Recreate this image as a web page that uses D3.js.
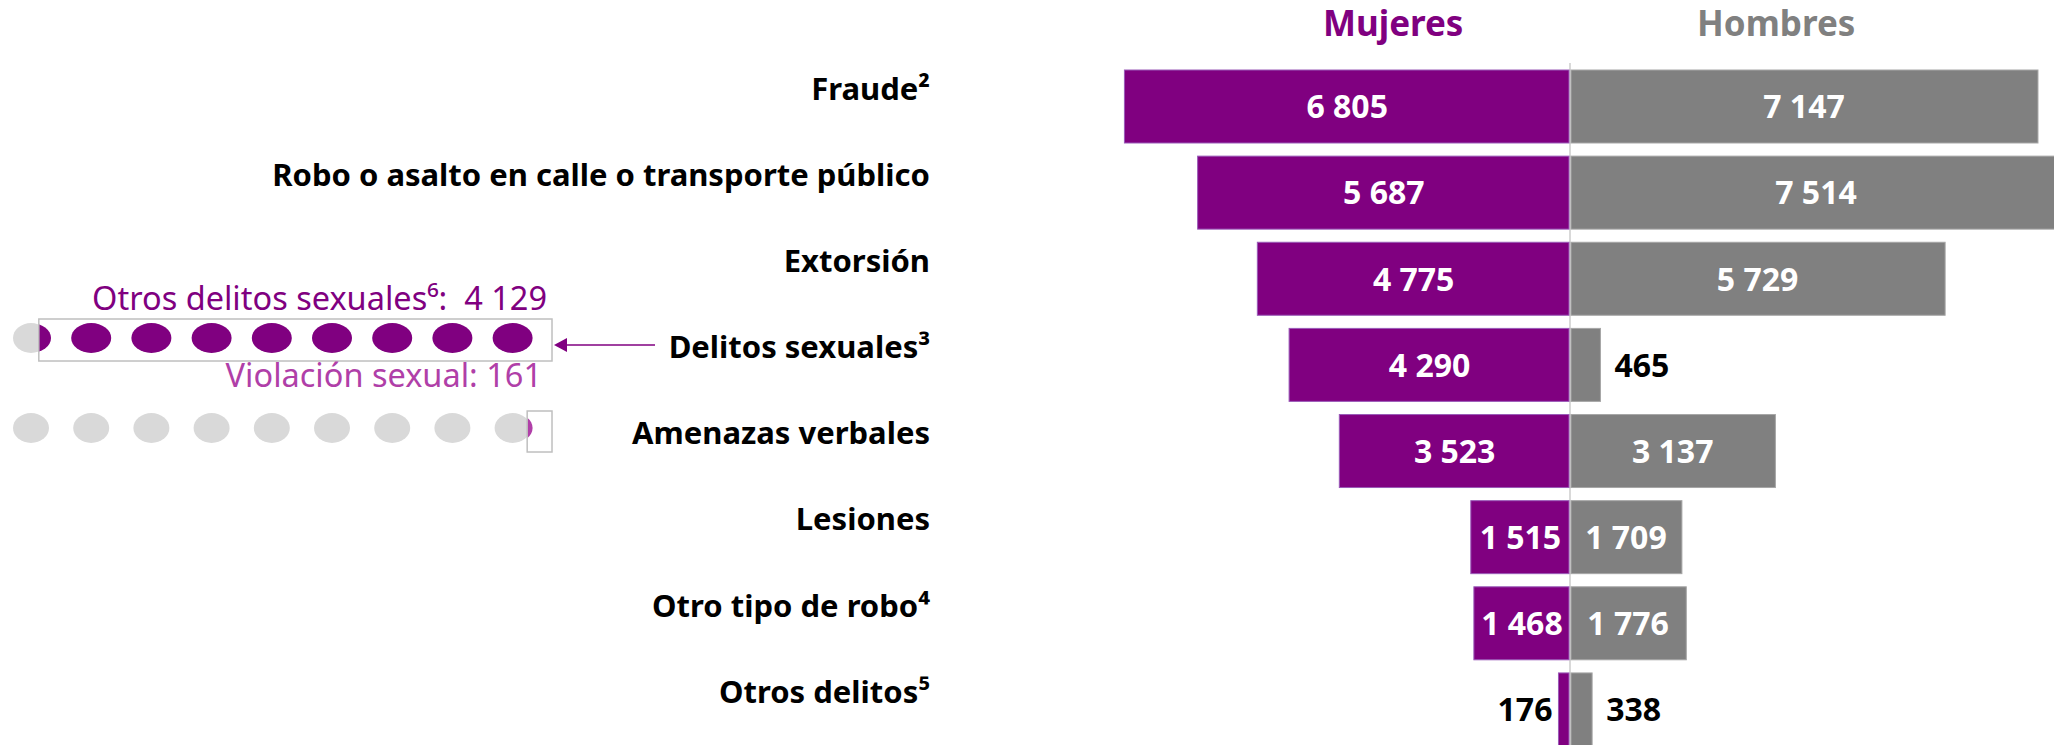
<!DOCTYPE html>
<html>
<head>
<meta charset="utf-8">
<script src="https://cdn.jsdelivr.net/npm/d3@7"></script>
<style>
  html, body { margin: 0; padding: 0; background: #fff; }
  svg { display: block; font-family: "Noto Sans", "Open Sans", sans-serif; }
</style>
</head>
<body>
<svg id="chart"></svg>
<script>
var width  = 2054;
var height = 745;

// data
var categories = [
    'Fraude²',
    'Robo o asalto en calle o transporte público',
    'Extorsión',
    'Delitos sexuales³',
    'Amenazas verbales',
    'Lesiones',
    'Otro tipo de robo⁴',
    'Otros delitos⁵'
];
var mujeres = [6805, 5687, 4775, 4290, 3523, 1515, 1468, 176];
var hombres = [7147, 7514, 5729, 465, 3137, 1709, 1776, 338];
var seriesNames = ['Mujeres', 'Hombres'];

var sexualLabels = ['Otros delitos sexuales⁶:  ', 'Violación sexual: '];
var sexualValues = [4129, 161];
var dotCount = 9;

var purple  = '#800080';
var magenta = '#b03fa8';
var grey    = '#808080';
var light   = '#d9d9d9';

var fmt = d3.formatLocale({decimal: ',', thousands: ' ', grouping: [3], currency: ['', '']}).format(',d');

var rows = categories.map(function(c, i) {
    return {cat: c, m: mujeres[i], h: hombres[i]};
});

var svg = d3.select('#chart')
    .attr('width', width)
    .attr('height', height);

var centerX = 1570;
var maxVal  = d3.max(mujeres.concat(hombres));

var xRight = d3.scaleLinear()
    .domain([0, maxVal])
    .range([centerX, centerX + 492]);

var xLeft = d3.scaleLinear()
    .domain([0, maxVal])
    .range([centerX, centerX - 492]);

var y = d3.scaleBand()
    .domain(categories)
    .range([63.43, 752.5])
    .paddingInner(0.1525)
    .paddingOuter(0.0763);

// center line
svg.append('line')
    .attr('x1', centerX)
    .attr('x2', centerX)
    .attr('y1', 63)
    .attr('y2', height)
    .attr('stroke', light)
    .attr('stroke-width', 2);

// bars
svg.append('g')
    .selectAll('rect')
    .data(rows)
    .enter()
    .append('rect')
        .attr('x', d => xLeft(d.m))
        .attr('y', d => y(d.cat))
        .attr('width', d => centerX - 1 - xLeft(d.m))
        .attr('height', y.bandwidth())
        .attr('fill', purple)
        .attr('stroke', '#9a5ab8')
        .attr('stroke-width', 1);

svg.append('g')
    .selectAll('rect')
    .data(rows)
    .enter()
    .append('rect')
        .attr('x', centerX + 1)
        .attr('y', d => y(d.cat))
        .attr('width', d => xRight(d.h) - centerX - 1)
        .attr('height', y.bandwidth())
        .attr('fill', grey)
        .attr('stroke', '#a6a6a6')
        .attr('stroke-width', 1);

// value labels
var inside = 1000;

svg.append('g')
    .selectAll('text')
    .data(rows)
    .enter()
    .append('text')
        .attr('x', d => d.m >= inside ? (xLeft(d.m) + centerX) / 2 : xLeft(d.m) - 6)
        .attr('y', d => y(d.cat) + y.bandwidth() / 2)
        .attr('dy', '0.37em')
        .attr('text-anchor', d => d.m >= inside ? 'middle' : 'end')
        .attr('font-size', 32)
        .attr('font-weight', 'bold')
        .attr('fill', d => d.m >= inside ? '#fff' : '#000')
        .text(d => fmt(d.m));

svg.append('g')
    .selectAll('text')
    .data(rows)
    .enter()
    .append('text')
        .attr('x', d => d.h >= inside ? (xRight(d.h) + centerX) / 2 : xRight(d.h) + 14)
        .attr('y', d => y(d.cat) + y.bandwidth() / 2)
        .attr('dy', '0.37em')
        .attr('text-anchor', d => d.h >= inside ? 'middle' : 'start')
        .attr('font-size', 32)
        .attr('font-weight', 'bold')
        .attr('fill', d => d.h >= inside ? '#fff' : '#000')
        .text(d => fmt(d.h));

// category labels
svg.append('g')
    .selectAll('text')
    .data(rows)
    .enter()
    .append('text')
        .attr('x', 930)
        .attr('y', d => y(d.cat) + y.bandwidth() / 2 - 6.7)
        .attr('text-anchor', 'end')
        .attr('font-size', 31)
        .attr('font-weight', 'bold')
        .attr('fill', '#000')
        .text(d => d.cat);

// headers
svg.append('text')
    .attr('x', xLeft(2700))
    .attr('y', 36)
    .attr('text-anchor', 'middle')
    .attr('font-size', 35)
    .attr('font-weight', 'bold')
    .attr('fill', purple)
    .text(seriesNames[0]);

svg.append('text')
    .attr('x', xRight(3150))
    .attr('y', 36)
    .attr('text-anchor', 'middle')
    .attr('font-size', 35)
    .attr('font-weight', 'bold')
    .attr('fill', grey)
    .text(seriesNames[1]);

// breakdown of sexual offences (dots)
var sexualTotal = d3.sum(sexualValues);
var boxRight = 552;
var boxPad = 5;

var boxScale = d3.scaleLinear()
    .domain([0, sexualTotal])
    .range([boxRight, boxRight - 528]);

var dotX = d3.scalePoint()
    .domain(d3.range(dotCount))
    .range([31, 512.6]);

var rowY   = [338, 428];
var boxTop = [319, 411];
var boxH   = [42, 41];
var fills  = [purple, magenta];

var defs = svg.append('defs');

sexualValues.forEach(function(v, r) {
    var bx = boxScale(v) - boxPad;

    defs.append('clipPath')
        .attr('id', 'clip' + r)
      .append('rect')
        .attr('x', bx)
        .attr('y', boxTop[r])
        .attr('width', boxRight - bx)
        .attr('height', boxH[r]);

    var g = svg.append('g');

    g.selectAll('ellipse.bg')
        .data(d3.range(dotCount))
        .enter()
        .append('ellipse')
            .attr('class', 'bg')
            .attr('cx', d => dotX(d))
            .attr('cy', rowY[r])
            .attr('rx', 18)
            .attr('ry', 15)
            .attr('fill', light);

    g.append('g')
        .attr('clip-path', 'url(#clip' + r + ')')
        .selectAll('ellipse')
        .data(d3.range(dotCount))
        .enter()
        .append('ellipse')
            .attr('cx', d => dotX(d))
            .attr('cy', rowY[r])
            .attr('rx', 20)
            .attr('ry', 15)
            .attr('fill', fills[r]);

    g.append('rect')
        .attr('x', bx)
        .attr('y', boxTop[r])
        .attr('width', boxRight - bx)
        .attr('height', boxH[r])
        .attr('fill', 'none')
        .attr('stroke', '#bfbfbf')
        .attr('stroke-width', 1.5);
});

svg.append('text')
    .attr('x', 547)
    .attr('y', 310)
    .attr('text-anchor', 'end')
    .attr('font-size', 32.5)
    .attr('fill', purple)
    .style('white-space', 'pre')
    .text(sexualLabels[0] + fmt(sexualValues[0]));

svg.append('text')
    .attr('x', 542)
    .attr('y', 387)
    .attr('text-anchor', 'end')
    .attr('font-size', 32.5)
    .attr('fill', magenta)
    .text(sexualLabels[1] + fmt(sexualValues[1]));

// arrow from "Delitos sexuales" to the box
svg.append('line')
    .attr('x1', 655)
    .attr('x2', 566)
    .attr('y1', 345)
    .attr('y2', 345)
    .attr('stroke', purple)
    .attr('stroke-width', 1.5);

svg.append('path')
    .attr('d', d3.line()([[554, 345], [567, 338], [567, 352]]) + 'Z')
    .attr('fill', purple);
</script>
</body>
</html>
